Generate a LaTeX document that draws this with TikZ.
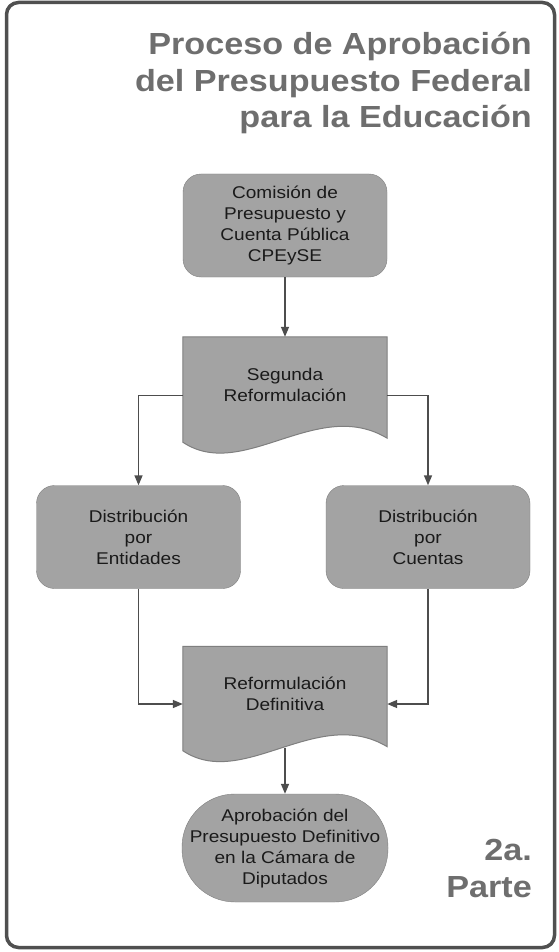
\documentclass[tikz,border=0pt]{standalone}
\usepackage{fontspec}
\setmainfont[FakeStretch=1.12]{Liberation Sans}
\usetikzlibrary{arrows.meta,backgrounds}
\definecolor{cajagris}{HTML}{A3A3A3}
\definecolor{bordegris}{HTML}{7F7F7F}
\definecolor{flechagris}{HTML}{4D4D4D}
\definecolor{titulogris}{HTML}{6E6E6E}
\definecolor{marcogris}{HTML}{505050}
\definecolor{textogris}{HTML}{1A1A1A}

\begin{document}
\begin{tikzpicture}[x=1pt,y=1pt]
    \tikzstyle{line} = [-{Triangle[length=10pt,width=8pt]}, draw=flechagris, line width=1.5pt]
    \tikzstyle{rec} = [rectangle, rounded corners=18pt, draw=bordegris, fill=cajagris,
      minimum width=204pt, minimum height=103pt, align=center, text=textogris,
      font=\fontsize{17}{21}\selectfont]
    \tikzstyle{doc} = [rectangle, minimum width=204pt, minimum height=95pt, align=center,
      text=textogris, font=\fontsize{17}{21}\selectfont]
    \tikzstyle{ovalo} = [rectangle, rounded corners=53pt, draw=bordegris, fill=cajagris,
      minimum width=206pt, minimum height=108pt, inner xsep=0pt, align=center,
      text=textogris, font=\fontsize{17}{21}\selectfont]
    \tikzstyle{titulo} = [anchor=north east, align=right, inner sep=0pt, text=titulogris,
      font=\fontsize{30.5}{36.5}\selectfont\bfseries]
    \tikzstyle{forma} = [fill=cajagris, draw=bordegris, line width=1pt]

    \useasboundingbox (0,0) rectangle (558,-952);

    \node(titulo) [titulo] at (532,-32) {Proceso de Aprobación\\del Presupuesto Federal\\para la Educación};
    \node(parte) [titulo] at (532,-839) {2a.\\Parte};

    \node(comision) [rec] at (285,-225.5) {Comisión de\\Presupuesto y\\Cuenta Pública\\CPEySE};
    \node(segunda) [doc, below of=comision, node distance=159pt] {Segunda\\Reformulación};
    \node(entidades) [rec, below of=segunda, node distance=152.5pt, xshift=-146.5pt]
    {Distribución\\por\\Entidades};
    \node(cuentas) [rec, below of=segunda, node distance=152.5pt, xshift=143pt]
    {Distribución\\por\\Cuentas};
    \node(reform) [doc, below of=segunda, node distance=309.5pt] {Reformulación\\Definitiva};
    \node(aprob) [ovalo, below of=reform, node distance=154pt] {Aprobación del\\Presupuesto
    Definitivo\\en la Cámara de\\Diputados};

    % frame and document shapes go behind the text
    \begin{scope}[on background layer]
        \fill[white] (0,0) rectangle (558,-952);
        \draw[marcogris, line width=3.5pt, rounded corners=12pt] (6.5,-2.5) rectangle (554.5,-947.5);
        \draw[forma] (segunda.north west) -- (segunda.north east) -- ([yshift=-6pt]segunda.south east)
        .. controls +(-70,42) and +(60,-40) .. ([yshift=-10pt]segunda.south west) -- cycle;
        \draw[forma] (reform.north west) -- (reform.north east) -- ([yshift=-5pt]reform.south east)
        .. controls +(-70,42) and +(60,-40) .. ([yshift=-9pt]reform.south west) -- cycle;
    \end{scope}

    \draw[line] (comision) -- (segunda);
    \draw[line] ([yshift=-11pt]segunda.west) -| (entidades.north);
    \draw[line] ([yshift=-11pt]segunda.east) -| (cuentas.north);
    \draw[line] (entidades.south) |- ([yshift=-10pt]reform.west);
    \draw[line] (cuentas.south) |- ([yshift=-10pt]reform.east);
    \draw[line] ([yshift=-6pt]reform.south) -- (aprob.north);
\end{tikzpicture}
\end{document}
